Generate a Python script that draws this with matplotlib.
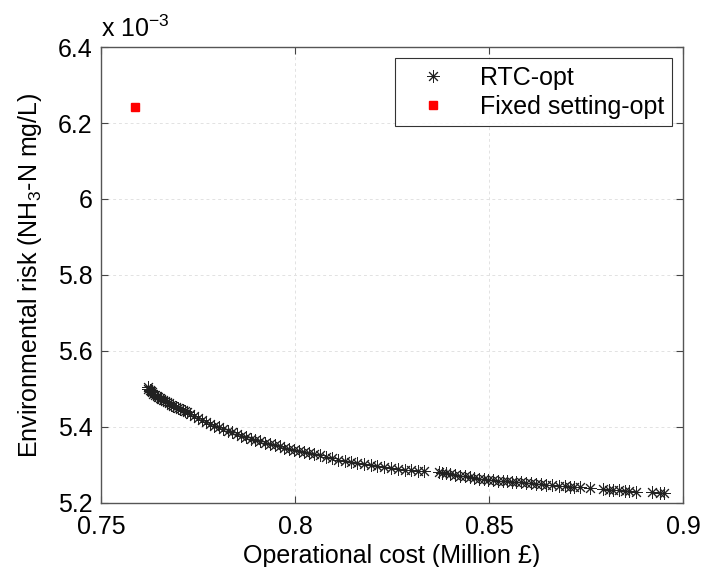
import matplotlib
matplotlib.use("Agg")
import matplotlib.pyplot as plt
from matplotlib.ticker import FixedLocator

plt.rcParams['font.family'] = ['Liberation Sans', 'DejaVu Sans']
plt.rcParams['mathtext.fontset'] = 'custom'
plt.rcParams['mathtext.rm'] = 'Liberation Sans'
plt.rcParams['mathtext.it'] = 'Liberation Sans'

# RTC-opt Pareto points: operational cost (Million £), environmental risk (x 1e-3 mg/L)
rtc_cost = [
    0.7620, 0.7622, 0.7625, 0.7628, 0.7631, 0.7635, 0.7639, 0.7643, 0.7647, 0.7651,
    0.7655, 0.7660, 0.7665, 0.7670, 0.7675, 0.7680, 0.7686, 0.7692, 0.7698, 0.7704,
    0.7710, 0.7716, 0.7722,
    0.7730, 0.7740, 0.7750, 0.7760, 0.7770, 0.7780, 0.7792, 0.7803, 0.7815, 0.7827,
    0.7838, 0.7850, 0.7862, 0.7874, 0.7886, 0.7898, 0.7910, 0.7922, 0.7935, 0.7948,
    0.7960, 0.7972, 0.7985, 0.7997,
    0.8010, 0.8023, 0.8037, 0.8050, 0.8065, 0.8080, 0.8095, 0.8110, 0.8128, 0.8145,
    0.8160, 0.8178, 0.8195, 0.8212, 0.8230, 0.8248, 0.8265, 0.8283, 0.8300, 0.8318,
    0.8333,
    0.8372, 0.8380, 0.8390, 0.8400, 0.8412, 0.8425, 0.8437, 0.8450, 0.8462, 0.8475,
    0.8487, 0.8498, 0.8510, 0.8522, 0.8535, 0.8547, 0.8558, 0.8570, 0.8582, 0.8595,
    0.8607,
    0.8620, 0.8635, 0.8648, 0.8662, 0.8680, 0.8695, 0.8708, 0.8720, 0.8735, 0.8760,
    0.8795, 0.8808, 0.8820, 0.8835, 0.8850, 0.8862, 0.8878, 0.8920, 0.8940, 0.8952,
]
rtc_risk = [
    5.504, 5.500, 5.497, 5.494, 5.491, 5.488, 5.485, 5.482, 5.479, 5.476,
    5.474, 5.471, 5.468, 5.465, 5.462, 5.459, 5.456, 5.453, 5.450, 5.447,
    5.444, 5.442, 5.439,
    5.434, 5.429, 5.424, 5.418, 5.413, 5.408, 5.403, 5.399, 5.394, 5.390,
    5.386, 5.381, 5.377, 5.373, 5.369, 5.366, 5.362, 5.359, 5.356, 5.352,
    5.349, 5.346, 5.343, 5.340,
    5.337, 5.334, 5.331, 5.328, 5.325, 5.321, 5.318, 5.314, 5.311, 5.308,
    5.305, 5.302, 5.300, 5.297, 5.295, 5.292, 5.290, 5.288, 5.286, 5.285,
    5.284,
    5.282, 5.280, 5.278, 5.276, 5.274, 5.272, 5.270, 5.268, 5.266, 5.264,
    5.263, 5.261, 5.260, 5.259, 5.258, 5.257, 5.256, 5.255, 5.254, 5.253,
    5.252,
    5.251, 5.249, 5.248, 5.247, 5.245, 5.244, 5.243, 5.242, 5.241, 5.239,
    5.236, 5.235, 5.234, 5.233, 5.232, 5.231, 5.230, 5.228, 5.227, 5.227,
]

fixed_cost = [0.7588]
fixed_risk = [6.242]

x_ticks = [0.75, 0.8, 0.85, 0.9]
x_tick_labels = ['0.75', '0.8', '0.85', '0.9']
y_ticks = [5.2, 5.4, 5.6, 5.8, 6.0, 6.2, 6.4]
y_tick_labels = ['5.2', '5.4', '5.6', '5.8', '6', '6.2', '6.4']

fig = plt.figure(figsize=(7.03, 5.67), dpi=100)
ax = fig.add_axes([0.1437, 0.1129, 0.8279, 0.8042])

ax.plot(rtc_cost, rtc_risk, linestyle='none', marker=(8, 2, 0), markersize=9,
        markeredgewidth=0.7, color='black', markeredgecolor='#222222', label='RTC-opt')
ax.plot(fixed_cost, fixed_risk, linestyle='none', marker='s', markersize=6,
        color='red', markeredgecolor='red', label='Fixed setting-opt')

ax.set_xlim(0.75, 0.9)
ax.set_ylim(5.2, 6.4)
ax.xaxis.set_major_locator(FixedLocator(x_ticks))
ax.set_xticklabels(x_tick_labels)
ax.yaxis.set_major_locator(FixedLocator(y_ticks))
ax.set_yticklabels(y_tick_labels)

ax.tick_params(direction='in', top=True, right=True, labelsize=18, length=5,
               width=0.8, color='#444444')
ax.tick_params(axis='x', pad=9)
ax.tick_params(axis='y', pad=6)
for s in ax.spines.values():
    s.set_color('#555555')
    s.set_linewidth(1.0)

ax.grid(True, linestyle=(0, (3, 3)), color='#e2e2e2', linewidth=0.7)
ax.set_axisbelow(True)

ax.set_xlabel('Operational cost (Million £)', fontsize=18, labelpad=3)
ax.set_ylabel('Environmental risk (NH$_3$-N mg/L)', fontsize=18, labelpad=10)

ax.text(0.0, 1.012, r'x 10$^{-3}$', transform=ax.transAxes, fontsize=18,
        ha='left', va='bottom')

leg = ax.legend(loc='upper right', fontsize=18, frameon=True, fancybox=False,
                edgecolor='black', borderaxespad=0.45, handletextpad=0.7,
                borderpad=0.3, labelspacing=0.2, handlelength=2.4)
leg.get_frame().set_linewidth(0.8)

fig.savefig('out.png', dpi=100, facecolor='white')
